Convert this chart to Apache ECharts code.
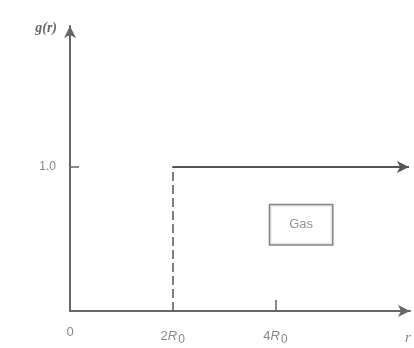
<!DOCTYPE html>
<html><head><meta charset="utf-8">
<script src="https://cdn.jsdelivr.net/npm/echarts@6/dist/echarts.min.js"></script>
<style>html,body{margin:0;padding:0;background:#fff}#c{width:414px;height:348px}</style>
</head><body><div id="c"></div>
<script>
// Data (r in units of R0)
const xTickValues = [0, 2, 4];
const xTickLabels = ['0', '2R0', '4R0'];
const yTickValues = [1];
const yTickLabels = ['1.0'];
const stepStart = [2, 1];      // g(r) jumps to 1.0 at r = 2R0
const stepEnd = [6.6, 1];      // continues as g(r)=1.0
const dashBottom = [2, 0];
const boxPos = [4.5, 0.6];
const boxText = 'Gas';
const xMax = 6.62, yMax = 1.98;

const gray = '#666';
const chart = echarts.init(document.getElementById('c'), null, {renderer: 'canvas'});
chart.setOption({
  animation: false,
  grid: {left: 70, right: 4, top: 26, bottom: 37, containLabel: false},
  xAxis: {
    type: 'value', min: 0, max: xMax,
    name: 'r', nameLocation: 'end', nameGap: -5,
    nameTextStyle: {color: '#888', fontFamily: 'Liberation Serif', fontStyle: 'italic', fontSize: 15, verticalAlign: 'top', padding: [20, 0, 0, 0]},
    axisLine: {lineStyle: {color: gray, width: 2}, symbol: ['none', 'arrow'], symbolSize: [9, 12]},
    axisTick: {show: true, inside: true, length: 11, customValues: [4], lineStyle: {color: gray, width: 1.5}},
    splitLine: {show: false},
    axisLabel: {
      customValues: xTickValues, margin: 15,
      formatter: v => {
        const s = xTickLabels[xTickValues.indexOf(v)];
        if (s === '0') return '{n|0}';
        return '{n|' + s[0] + '}{i|R}{s|0}';
      },
      rich: {
        n: {color: '#888', fontSize: 13, fontFamily: 'Liberation Sans'},
        i: {color: '#888', fontSize: 13, fontFamily: 'Liberation Sans', fontStyle: 'italic'},
        s: {color: '#888', fontSize: 12, fontFamily: 'Liberation Sans', padding: [8, 0, 0, 1]}
      }
    }
  },
  yAxis: {
    type: 'value', min: 0, max: yMax,
    name: 'g(r)', nameLocation: 'end', nameGap: -2,
    nameTextStyle: {color: '#666', fontFamily: 'Liberation Serif', fontStyle: 'italic', fontWeight: 'bold', fontSize: 14, align: 'right', verticalAlign: 'middle', padding: [0, 13, 0, 0]},
    axisLine: {lineStyle: {color: gray, width: 2}, symbol: ['none', 'arrow'], symbolSize: [9, 12]},
    axisTick: {show: true, inside: true, length: 9, customValues: yTickValues, lineStyle: {color: gray, width: 1.5}},
    splitLine: {show: false},
    axisLabel: {customValues: yTickValues, margin: 14, color: '#888', fontSize: 12, fontFamily: 'Liberation Sans',
      formatter: v => yTickLabels[yTickValues.indexOf(v)]}
  },
  series: [
    {
      type: 'line', data: [stepStart, stepEnd], symbol: 'none',
      lineStyle: {color: '#555', width: 2},
      markLine: {
        silent: true, symbol: ['none', 'none'], label: {show: false},
        data: [
          [{coord: dashBottom, lineStyle: {type: [9, 4], color: '#555', width: 1.5}}, {coord: stepStart}],
          [{coord: stepStart, symbol: 'none', lineStyle: {type: 'solid', color: '#555', width: 2}}, {coord: stepEnd, symbol: 'arrow', symbolSize: [9, 12]}]
        ]
      }
    },
    {
      type: 'scatter', data: [boxPos], symbolSize: 0,
      label: {show: true, position: 'inside', formatter: boxText, color: '#777', fontSize: 13, fontFamily: 'Liberation Sans',
        borderColor: '#666', borderWidth: 1.5, padding: [13, 19, 13, 19], backgroundColor: '#fff'}
    }
  ]
});
</script></body></html>
